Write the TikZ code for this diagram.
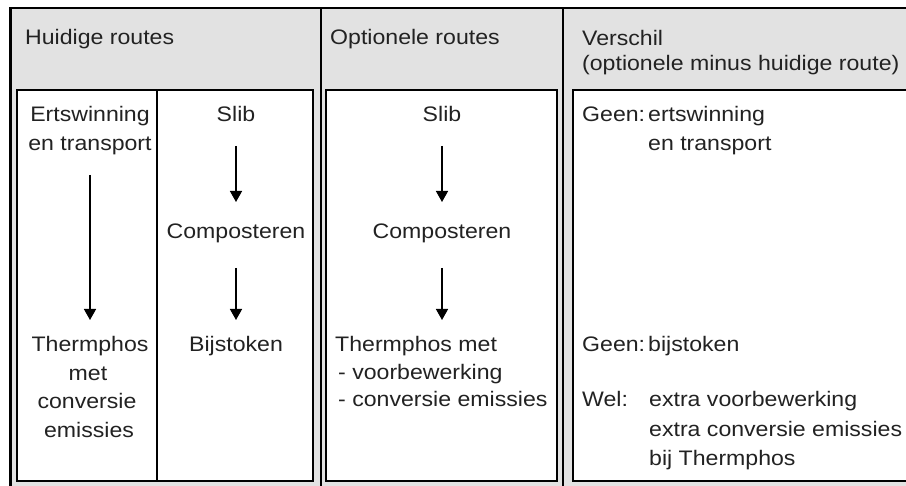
\documentclass[tikz,border=0pt]{standalone}
\usepackage{fontspec}
\setmainfont{Liberation Sans}[FakeStretch=1.1]
\usetikzlibrary{arrows.meta}
\newcommand\myfs{\fontsize{21}{29}\selectfont}
\definecolor{bggray}{HTML}{E2E2E2}
\definecolor{ink}{HTML}{222222}
\tikzset{
  frameline/.style={draw=black, line width=2.5pt},
  divline/.style={draw=black, line width=2.3pt},
  box/.style={draw=black, line width=1.9pt, fill=white},
  txt/.style={inner sep=0pt, anchor=base, font=\myfs, text=ink},
  txtl/.style={txt, anchor=base west},
  arr/.style={draw=black, line width=1.5pt, -{Triangle[width=12pt,length=11pt]}},
}
\begin{document}
\begin{tikzpicture}[x=1pt, y=-1pt]
\useasboundingbox (0,0) rectangle (906,486);
% background and frame
\fill[bggray] (10.5,8) rectangle (915,492);
\draw[frameline] (10.5,8) rectangle (915,492);
\draw[divline] (321,8) -- (321,492);
\draw[divline] (563,8) -- (563,492);
% inner boxes
\draw[box] (17,90) rectangle (313,481);
\draw[box] (157,90) -- (157,481);
\draw[box] (326,90) rectangle (557,481);
\draw[box] (573,90) rectangle (915,481);
% headers
\node[txtl] (h1) at (25,45) {Huidige routes};
\node[txtl] (h2) at (330,45) {Optionele routes};
\node[txtl] (h3a) at (582,46) {Verschil};
\node[txtl] (h3b) at (582,71) {(optionele minus huidige route)};
% panel 1, left column
\node[txt] (ert1) at (90,122) {Ertswinning};
\node[txt] (ert2) at (90,151) {en transport};
\node[txt] (th1) at (90,352) {Thermphos};
\node[txt] (th1b) at (88,380.5) {met};
\node[txt] (th1c) at (87,409) {conversie};
\node[txt] (th1d) at (89,437.5) {emissies};
\draw[arr] ([yshift=-24pt]ert2.base) -- ([yshift=32pt]th1.base);
% panel 1, right column
\node[txt] (slib1) at (236,122) {Slib};
\node[txt] (comp1) at (236,239) {Composteren};
\node[txt] (bij1) at (236,352) {Bijstoken};
\draw[arr] ([yshift=-24pt]slib1.base) -- ([yshift=37pt]comp1.base);
\draw[arr] ([yshift=-29pt]comp1.base) -- ([yshift=32pt]bij1.base);
% panel 2
\node[txt] (slib2) at (442,122) {Slib};
\node[txt] (comp2) at (442,239) {Composteren};
\node[txtl] (th2) at (335,352) {Thermphos met};
\node[txtl] (vb2) at (338,379.5) {- voorbewerking};
\node[txtl] (ce2) at (338,407) {- conversie emissies};
\draw[arr] ([yshift=-24pt]slib2.base) -- ([yshift=37pt]comp2.base);
\draw[arr] ([yshift=-29pt]comp2.base) -- ([yshift=32pt]comp2.base |- th2.base);
% panel 3
\node[txtl] (g1) at (582,122) {Geen:};
\node[txtl] (g1a) at (648,122) {ertswinning};
\node[txtl] (g1b) at (648,151) {en transport};
\node[txtl] (g2) at (582,352) {Geen:};
\node[txtl] (g2a) at (648,352) {bijstoken};
\node[txtl] (w) at (582,407) {Wel:};
\node[txtl] (w1) at (649,407) {extra voorbewerking};
\node[txtl] (w2) at (649,437) {extra conversie emissies};
\node[txtl] (w3) at (649,466) {bij Thermphos};
\end{tikzpicture}
\end{document}
